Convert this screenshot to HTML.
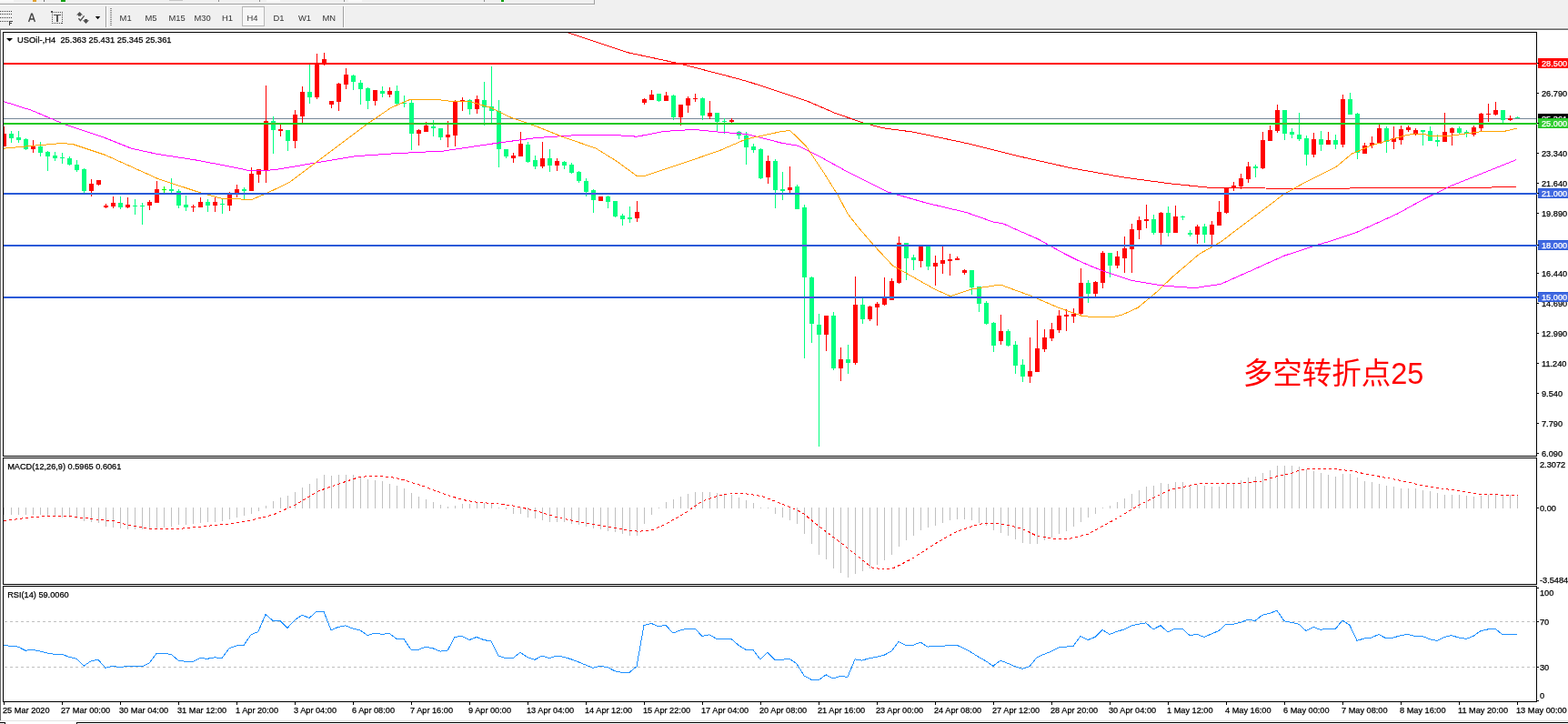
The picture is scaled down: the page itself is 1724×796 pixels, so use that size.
<!DOCTYPE html>
<html><head><meta charset="utf-8"><title>USOil H4</title>
<style>
html,body{margin:0;padding:0;background:#f0f0f0;}
body{width:1724px;height:796px;overflow:hidden;position:relative;}
svg{position:absolute;left:0;top:0;display:block;}
text{font-family:"Liberation Sans","Noto Sans CJK SC",sans-serif;}
</style></head>
<body>
<svg width="1724" height="796" viewBox="0 0 1724 796" shape-rendering="crispEdges">
<rect x="0" y="0" width="1724" height="33" fill="#f0f0f0"/>
<rect x="0" y="0" width="15" height="2" fill="#fafafa"/>
<rect x="36" y="0" width="4" height="2" fill="#e0a030"/>
<rect x="48" y="0" width="1" height="2" fill="#707070"/>
<rect x="67" y="0" width="5" height="2" fill="#10a010"/>
<rect x="186" y="0" width="15" height="1" fill="#c8c8c8"/>
<rect x="240" y="0" width="1" height="2" fill="#909090"/>
<rect x="285" y="0" width="1" height="2" fill="#909090"/>
<rect x="293" y="0" width="15" height="2" fill="#fafafa"/>
<rect x="378" y="0" width="1" height="2" fill="#909090"/>
<rect x="383" y="0" width="15" height="2" fill="#fafafa"/>
<rect x="532" y="0" width="1" height="2" fill="#909090"/>
<rect x="551" y="0" width="3" height="2" fill="#10a010"/>
<rect x="0" y="4" width="653" height="1" fill="#a0a0a0"/>
<rect x="653" y="0" width="1" height="5" fill="#a0a0a0"/>
<rect x="0" y="5" width="653" height="1" fill="#ffffff"/>
<rect x="0" y="12" width="1" height="1" fill="#404040"/>
<rect x="2" y="12" width="1" height="1" fill="#404040"/>
<rect x="4" y="12" width="1" height="1" fill="#404040"/>
<rect x="6" y="12" width="1" height="1" fill="#404040"/>
<rect x="8" y="12" width="1" height="1" fill="#404040"/>
<rect x="10" y="12" width="1" height="1" fill="#404040"/>
<rect x="12" y="12" width="1" height="1" fill="#404040"/>
<rect x="0" y="15" width="1" height="1" fill="#404040"/>
<rect x="2" y="15" width="1" height="1" fill="#404040"/>
<rect x="4" y="15" width="1" height="1" fill="#404040"/>
<rect x="6" y="15" width="1" height="1" fill="#404040"/>
<rect x="8" y="15" width="1" height="1" fill="#404040"/>
<rect x="10" y="15" width="1" height="1" fill="#404040"/>
<rect x="12" y="15" width="1" height="1" fill="#404040"/>
<rect x="0" y="19" width="1" height="1" fill="#404040"/>
<rect x="2" y="19" width="1" height="1" fill="#404040"/>
<rect x="4" y="19" width="1" height="1" fill="#404040"/>
<rect x="6" y="19" width="1" height="1" fill="#404040"/>
<rect x="8" y="19" width="1" height="1" fill="#404040"/>
<rect x="10" y="19" width="1" height="1" fill="#404040"/>
<rect x="12" y="19" width="1" height="1" fill="#404040"/>
<rect x="0" y="23" width="1" height="1" fill="#404040"/>
<rect x="2" y="23" width="1" height="1" fill="#404040"/>
<rect x="4" y="23" width="1" height="1" fill="#404040"/>
<rect x="6" y="23" width="1" height="1" fill="#404040"/>
<rect x="8" y="23" width="1" height="1" fill="#404040"/>
<rect x="10" y="23" width="1" height="5" fill="#404040"/>
<rect x="10" y="23" width="4" height="1" fill="#404040"/>
<rect x="10" y="25" width="3" height="1" fill="#404040"/>
<path d="M31.6 24 L34.6 15.3 L35.4 15.3 L38.4 24 M32.9 21 L37.1 21" stroke="#454545" stroke-width="1.4" fill="none" shape-rendering="auto"/>
<rect x="57" y="13" width="1" height="1" fill="#505050"/>
<rect x="68" y="13" width="1" height="1" fill="#505050"/>
<rect x="57" y="15" width="1" height="1" fill="#505050"/>
<rect x="68" y="15" width="1" height="1" fill="#505050"/>
<rect x="57" y="17" width="1" height="1" fill="#505050"/>
<rect x="68" y="17" width="1" height="1" fill="#505050"/>
<rect x="57" y="19" width="1" height="1" fill="#505050"/>
<rect x="68" y="19" width="1" height="1" fill="#505050"/>
<rect x="57" y="21" width="1" height="1" fill="#505050"/>
<rect x="68" y="21" width="1" height="1" fill="#505050"/>
<rect x="57" y="23" width="1" height="1" fill="#505050"/>
<rect x="68" y="23" width="1" height="1" fill="#505050"/>
<rect x="57" y="25" width="1" height="1" fill="#505050"/>
<rect x="68" y="25" width="1" height="1" fill="#505050"/>
<rect x="60" y="13" width="1" height="1" fill="#505050"/>
<rect x="62" y="13" width="1" height="1" fill="#505050"/>
<rect x="64" y="13" width="1" height="1" fill="#505050"/>
<rect x="66" y="13" width="1" height="1" fill="#505050"/>
<rect x="59" y="25" width="1" height="1" fill="#505050"/>
<rect x="61" y="25" width="1" height="1" fill="#505050"/>
<rect x="63" y="25" width="1" height="1" fill="#505050"/>
<rect x="65" y="25" width="1" height="1" fill="#505050"/>
<rect x="67" y="25" width="1" height="1" fill="#505050"/>
<rect x="56" y="12" width="2" height="2" fill="#505050"/>
<rect x="58" y="13" width="1" height="1" fill="#707070"/>
<rect x="59" y="16" width="8" height="1" fill="#505050"/>
<rect x="62" y="17" width="2" height="7" fill="#555555"/>
<path d="M84 16.6 L87.5 13 L91 16.6 L89 16.6 L89 17.8 L86 17.8 L86 16.6 Z" fill="#505050" shape-rendering="auto"/>
<path d="M93 21 L96 21 L96 22.3 L98 22.3 L94.5 26 L91 22.3 L93 22.3 Z" fill="#505050" shape-rendering="auto"/>
<path d="M86.4 20.3 L88.4 22.6 L92.6 17.4" stroke="#505050" stroke-width="1.4" fill="none" shape-rendering="auto"/>
<path d="M104.8 18 L110.2 18 L107.5 21.2 Z" fill="#000" shape-rendering="auto"/>
<rect x="116" y="7" width="1" height="23" fill="#a0a0a0"/>
<rect x="117" y="7" width="1" height="23" fill="#ffffff"/>
<rect x="121" y="9" width="2" height="1" fill="#909090"/>
<rect x="121" y="11" width="2" height="1" fill="#909090"/>
<rect x="121" y="13" width="2" height="1" fill="#909090"/>
<rect x="121" y="15" width="2" height="1" fill="#909090"/>
<rect x="121" y="17" width="2" height="1" fill="#909090"/>
<rect x="121" y="19" width="2" height="1" fill="#909090"/>
<rect x="121" y="21" width="2" height="1" fill="#909090"/>
<rect x="121" y="23" width="2" height="1" fill="#909090"/>
<rect x="121" y="25" width="2" height="1" fill="#909090"/>
<rect x="121" y="27" width="2" height="1" fill="#909090"/>
<rect x="377" y="7" width="1" height="23" fill="#a0a0a0"/>
<rect x="378" y="7" width="1" height="23" fill="#ffffff"/>
<rect x="266" y="7" width="25" height="22" fill="#f7f7f7"/>
<rect x="266.5" y="7.5" width="24" height="21" fill="none" stroke="#b8b8b8"/>
<text x="131.6" y="23" font-size="9.4" fill="#333">M1</text>
<text x="159.5" y="23" font-size="9.4" fill="#333">M5</text>
<text x="185.5" y="23" font-size="9.4" fill="#333">M15</text>
<text x="213.5" y="23" font-size="9.4" fill="#333">M30</text>
<text x="244" y="23" font-size="9.4" fill="#333">H1</text>
<text x="271.5" y="23" font-size="9.4" fill="#333">H4</text>
<text x="300.5" y="23" font-size="9.4" fill="#333">D1</text>
<text x="328" y="23" font-size="9.4" fill="#333">W1</text>
<text x="354.5" y="23" font-size="9.4" fill="#333">MN</text>
<rect x="0" y="30" width="1724" height="1" fill="#f8f8f8"/>
<rect x="0" y="31" width="1724" height="1" fill="#a0a0a0"/>
<rect x="0" y="32" width="1724" height="1" fill="#6a6a6a"/>
<rect x="1" y="33" width="1723" height="759" fill="#ffffff"/>
<rect x="0" y="32" width="1" height="760" fill="#696969"/>
<rect x="0" y="792" width="1724" height="1" fill="#e3e3e3"/>
<rect x="0" y="793" width="1724" height="3" fill="#ffffff"/>
<rect x="0" y="794" width="6" height="1" fill="#000"/>
<rect x="5" y="794" width="1" height="2" fill="#000"/>
<rect x="84" y="794" width="1640" height="1" fill="#000"/>
<rect x="84" y="794" width="1" height="2" fill="#000"/>
<rect x="0" y="795" width="5" height="1" fill="#f0f0f0"/>
<rect x="3" y="35" width="1687" height="1" fill="#000"/>
<rect x="3" y="501" width="1687" height="1" fill="#000"/>
<rect x="3" y="35" width="1" height="467" fill="#000"/>
<rect x="1689" y="35" width="1" height="467" fill="#000"/>
<rect x="3" y="503" width="1687" height="1" fill="#000"/>
<rect x="3" y="642" width="1687" height="1" fill="#000"/>
<rect x="3" y="503" width="1" height="140" fill="#000"/>
<rect x="1689" y="503" width="1" height="140" fill="#000"/>
<rect x="3" y="644" width="1687" height="1" fill="#000"/>
<rect x="3" y="771" width="1687" height="1" fill="#000"/>
<rect x="3" y="644" width="1" height="128" fill="#000"/>
<rect x="1689" y="644" width="1" height="128" fill="#000"/>
<defs><clipPath id="cm"><rect x="4" y="36" width="1685" height="465"/></clipPath><clipPath id="cd"><rect x="4" y="504" width="1685" height="138"/></clipPath><clipPath id="cr"><rect x="4" y="645" width="1685" height="126"/></clipPath></defs>
<g clip-path="url(#cm)">
<rect x="4" y="130" width="1686" height="1" fill="#778899"/>
<rect x="4" y="139" width="1" height="22" fill="#ff0000"/>
<rect x="2" y="147" width="5" height="14" fill="#ff0000"/>
<rect x="12" y="144" width="1" height="13" fill="#00ff7f"/>
<rect x="10" y="147" width="5" height="5" fill="#00ff7f"/>
<rect x="20" y="144" width="1" height="13" fill="#00ff7f"/>
<rect x="18" y="151" width="5" height="3" fill="#00ff7f"/>
<rect x="28" y="152" width="1" height="13" fill="#00ff7f"/>
<rect x="26" y="153" width="5" height="11" fill="#00ff7f"/>
<rect x="36" y="154" width="1" height="14" fill="#ff0000"/>
<rect x="34" y="160" width="5" height="4" fill="#ff0000"/>
<rect x="44" y="156" width="1" height="16" fill="#00ff7f"/>
<rect x="42" y="161" width="5" height="7" fill="#00ff7f"/>
<rect x="52" y="166" width="1" height="22" fill="#00ff7f"/>
<rect x="50" y="167" width="5" height="5" fill="#00ff7f"/>
<rect x="60" y="167" width="1" height="10" fill="#00ff7f"/>
<rect x="58" y="171" width="5" height="3" fill="#00ff7f"/>
<rect x="68" y="168" width="1" height="12" fill="#00ff7f"/>
<rect x="66" y="173" width="5" height="1" fill="#00ff7f"/>
<rect x="76" y="172" width="1" height="10" fill="#00ff7f"/>
<rect x="74" y="174" width="5" height="7" fill="#00ff7f"/>
<rect x="84" y="176" width="1" height="13" fill="#00ff7f"/>
<rect x="82" y="181" width="5" height="6" fill="#00ff7f"/>
<rect x="92" y="185" width="1" height="27" fill="#00ff7f"/>
<rect x="90" y="186" width="5" height="24" fill="#00ff7f"/>
<rect x="100" y="197" width="1" height="19" fill="#ff0000"/>
<rect x="98" y="202" width="5" height="8" fill="#ff0000"/>
<rect x="108" y="198" width="1" height="6" fill="#ff0000"/>
<rect x="106" y="198" width="5" height="5" fill="#ff0000"/>
<rect x="116" y="224" width="1" height="5" fill="#ff0000"/>
<rect x="114" y="226" width="5" height="2" fill="#ff0000"/>
<rect x="124" y="216" width="1" height="13" fill="#ff0000"/>
<rect x="122" y="223" width="5" height="4" fill="#ff0000"/>
<rect x="132" y="216" width="1" height="14" fill="#00ff7f"/>
<rect x="130" y="223" width="5" height="5" fill="#00ff7f"/>
<rect x="140" y="217" width="1" height="12" fill="#ff0000"/>
<rect x="138" y="225" width="5" height="3" fill="#ff0000"/>
<rect x="148" y="219" width="1" height="17" fill="#00ff7f"/>
<rect x="146" y="226" width="5" height="1" fill="#00ff7f"/>
<rect x="156" y="223" width="1" height="24" fill="#00ff7f"/>
<rect x="154" y="226" width="5" height="1" fill="#00ff7f"/>
<rect x="164" y="220" width="1" height="11" fill="#ff0000"/>
<rect x="162" y="222" width="5" height="4" fill="#ff0000"/>
<rect x="172" y="199" width="1" height="24" fill="#ff0000"/>
<rect x="170" y="208" width="5" height="15" fill="#ff0000"/>
<rect x="180" y="205" width="1" height="7" fill="#00ff00"/>
<rect x="178" y="208" width="5" height="1" fill="#00ff00"/>
<rect x="188" y="196" width="1" height="16" fill="#00ff7f"/>
<rect x="186" y="208" width="5" height="2" fill="#00ff7f"/>
<rect x="196" y="208" width="1" height="21" fill="#00ff7f"/>
<rect x="194" y="210" width="5" height="16" fill="#00ff7f"/>
<rect x="204" y="215" width="1" height="17" fill="#00ff7f"/>
<rect x="202" y="225" width="5" height="3" fill="#00ff7f"/>
<rect x="212" y="225" width="1" height="8" fill="#ff0000"/>
<rect x="210" y="227" width="5" height="1" fill="#ff0000"/>
<rect x="220" y="217" width="1" height="11" fill="#ff0000"/>
<rect x="218" y="222" width="5" height="6" fill="#ff0000"/>
<rect x="228" y="219" width="1" height="14" fill="#00ff7f"/>
<rect x="226" y="222" width="5" height="4" fill="#00ff7f"/>
<rect x="236" y="217" width="1" height="16" fill="#ff0000"/>
<rect x="234" y="222" width="5" height="4" fill="#ff0000"/>
<rect x="244" y="219" width="1" height="16" fill="#00ff7f"/>
<rect x="242" y="224" width="5" height="1" fill="#00ff7f"/>
<rect x="252" y="211" width="1" height="21" fill="#ff0000"/>
<rect x="250" y="214" width="5" height="12" fill="#ff0000"/>
<rect x="260" y="203" width="1" height="14" fill="#ff0000"/>
<rect x="258" y="208" width="5" height="4" fill="#ff0000"/>
<rect x="268" y="206" width="1" height="13" fill="#00ff7f"/>
<rect x="266" y="208" width="5" height="2" fill="#00ff7f"/>
<rect x="276" y="184" width="1" height="26" fill="#ff0000"/>
<rect x="274" y="191" width="5" height="19" fill="#ff0000"/>
<rect x="284" y="186" width="1" height="15" fill="#ff0000"/>
<rect x="282" y="186" width="5" height="6" fill="#ff0000"/>
<rect x="292" y="94" width="1" height="107" fill="#ff0000"/>
<rect x="290" y="133" width="5" height="54" fill="#ff0000"/>
<rect x="300" y="128" width="1" height="41" fill="#00ff7f"/>
<rect x="298" y="133" width="5" height="10" fill="#00ff7f"/>
<rect x="308" y="137" width="1" height="13" fill="#ff0000"/>
<rect x="306" y="142" width="5" height="2" fill="#ff0000"/>
<rect x="316" y="143" width="1" height="23" fill="#00ff7f"/>
<rect x="314" y="143" width="5" height="12" fill="#00ff7f"/>
<rect x="324" y="121" width="1" height="42" fill="#ff0000"/>
<rect x="322" y="126" width="5" height="29" fill="#ff0000"/>
<rect x="332" y="95" width="1" height="40" fill="#ff0000"/>
<rect x="330" y="101" width="5" height="27" fill="#ff0000"/>
<rect x="340" y="71" width="1" height="43" fill="#00ff7f"/>
<rect x="338" y="101" width="5" height="6" fill="#00ff7f"/>
<rect x="348" y="59" width="1" height="50" fill="#ff0000"/>
<rect x="346" y="69" width="5" height="38" fill="#ff0000"/>
<rect x="356" y="58" width="1" height="14" fill="#ff0000"/>
<rect x="354" y="65" width="5" height="5" fill="#ff0000"/>
<rect x="364" y="111" width="1" height="8" fill="#ff0000"/>
<rect x="362" y="111" width="5" height="4" fill="#ff0000"/>
<rect x="372" y="91" width="1" height="31" fill="#ff0000"/>
<rect x="370" y="92" width="5" height="20" fill="#ff0000"/>
<rect x="380" y="75" width="1" height="23" fill="#ff0000"/>
<rect x="378" y="82" width="5" height="11" fill="#ff0000"/>
<rect x="388" y="82" width="1" height="17" fill="#00ff7f"/>
<rect x="386" y="83" width="5" height="7" fill="#00ff7f"/>
<rect x="396" y="88" width="1" height="27" fill="#00ff7f"/>
<rect x="394" y="91" width="5" height="7" fill="#00ff7f"/>
<rect x="404" y="96" width="1" height="24" fill="#00ff7f"/>
<rect x="402" y="97" width="5" height="14" fill="#00ff7f"/>
<rect x="412" y="99" width="1" height="17" fill="#ff0000"/>
<rect x="410" y="99" width="5" height="12" fill="#ff0000"/>
<rect x="420" y="95" width="1" height="12" fill="#00ff7f"/>
<rect x="418" y="100" width="5" height="3" fill="#00ff7f"/>
<rect x="428" y="96" width="1" height="11" fill="#ff0000"/>
<rect x="426" y="100" width="5" height="4" fill="#ff0000"/>
<rect x="436" y="94" width="1" height="21" fill="#00ff7f"/>
<rect x="434" y="100" width="5" height="14" fill="#00ff7f"/>
<rect x="444" y="105" width="1" height="13" fill="#00ff7f"/>
<rect x="442" y="113" width="5" height="1" fill="#00ff7f"/>
<rect x="452" y="110" width="1" height="55" fill="#00ff7f"/>
<rect x="450" y="113" width="5" height="34" fill="#00ff7f"/>
<rect x="460" y="142" width="1" height="18" fill="#ff0000"/>
<rect x="458" y="143" width="5" height="4" fill="#ff0000"/>
<rect x="468" y="134" width="1" height="11" fill="#ff0000"/>
<rect x="466" y="138" width="5" height="7" fill="#ff0000"/>
<rect x="476" y="132" width="1" height="18" fill="#00ff7f"/>
<rect x="474" y="139" width="5" height="2" fill="#00ff7f"/>
<rect x="484" y="141" width="1" height="13" fill="#00ff7f"/>
<rect x="482" y="141" width="5" height="10" fill="#00ff7f"/>
<rect x="492" y="133" width="1" height="29" fill="#ff0000"/>
<rect x="490" y="148" width="5" height="3" fill="#ff0000"/>
<rect x="500" y="110" width="1" height="51" fill="#ff0000"/>
<rect x="498" y="112" width="5" height="37" fill="#ff0000"/>
<rect x="508" y="107" width="1" height="15" fill="#ff0000"/>
<rect x="506" y="110" width="5" height="2" fill="#ff0000"/>
<rect x="516" y="109" width="1" height="17" fill="#00ff7f"/>
<rect x="514" y="110" width="5" height="10" fill="#00ff7f"/>
<rect x="524" y="105" width="1" height="20" fill="#ff0000"/>
<rect x="522" y="109" width="5" height="11" fill="#ff0000"/>
<rect x="532" y="90" width="1" height="48" fill="#00ff7f"/>
<rect x="530" y="110" width="5" height="8" fill="#00ff7f"/>
<rect x="540" y="73" width="1" height="62" fill="#00ff7f"/>
<rect x="538" y="117" width="5" height="5" fill="#00ff7f"/>
<rect x="548" y="110" width="1" height="74" fill="#00ff7f"/>
<rect x="546" y="122" width="5" height="42" fill="#00ff7f"/>
<rect x="556" y="164" width="1" height="10" fill="#00ff7f"/>
<rect x="554" y="164" width="5" height="8" fill="#00ff7f"/>
<rect x="564" y="168" width="1" height="11" fill="#ff0000"/>
<rect x="562" y="171" width="5" height="3" fill="#ff0000"/>
<rect x="572" y="145" width="1" height="27" fill="#ff0000"/>
<rect x="570" y="158" width="5" height="14" fill="#ff0000"/>
<rect x="580" y="156" width="1" height="23" fill="#00ff7f"/>
<rect x="578" y="159" width="5" height="19" fill="#00ff7f"/>
<rect x="588" y="171" width="1" height="15" fill="#00ff7f"/>
<rect x="586" y="176" width="5" height="7" fill="#00ff7f"/>
<rect x="596" y="156" width="1" height="29" fill="#ff0000"/>
<rect x="594" y="174" width="5" height="9" fill="#ff0000"/>
<rect x="604" y="164" width="1" height="25" fill="#00ff7f"/>
<rect x="602" y="174" width="5" height="8" fill="#00ff7f"/>
<rect x="612" y="174" width="1" height="14" fill="#ff0000"/>
<rect x="610" y="177" width="5" height="5" fill="#ff0000"/>
<rect x="620" y="177" width="1" height="9" fill="#00ff7f"/>
<rect x="618" y="178" width="5" height="4" fill="#00ff7f"/>
<rect x="628" y="179" width="1" height="12" fill="#00ff7f"/>
<rect x="626" y="181" width="5" height="9" fill="#00ff7f"/>
<rect x="636" y="188" width="1" height="13" fill="#00ff7f"/>
<rect x="634" y="189" width="5" height="10" fill="#00ff7f"/>
<rect x="644" y="196" width="1" height="20" fill="#00ff7f"/>
<rect x="642" y="199" width="5" height="12" fill="#00ff7f"/>
<rect x="652" y="208" width="1" height="26" fill="#00ff7f"/>
<rect x="650" y="209" width="5" height="11" fill="#00ff7f"/>
<rect x="660" y="216" width="1" height="5" fill="#ff0000"/>
<rect x="658" y="216" width="5" height="5" fill="#ff0000"/>
<rect x="668" y="215" width="1" height="14" fill="#00ff7f"/>
<rect x="666" y="216" width="5" height="6" fill="#00ff7f"/>
<rect x="676" y="221" width="1" height="18" fill="#00ff7f"/>
<rect x="674" y="221" width="5" height="17" fill="#00ff7f"/>
<rect x="684" y="235" width="1" height="13" fill="#00ff7f"/>
<rect x="682" y="237" width="5" height="4" fill="#00ff7f"/>
<rect x="692" y="227" width="1" height="18" fill="#00ff7f"/>
<rect x="690" y="239" width="5" height="2" fill="#00ff7f"/>
<rect x="700" y="221" width="1" height="23" fill="#ff0000"/>
<rect x="698" y="233" width="5" height="7" fill="#ff0000"/>
<rect x="708" y="108" width="1" height="7" fill="#ff0000"/>
<rect x="706" y="109" width="5" height="4" fill="#ff0000"/>
<rect x="716" y="99" width="1" height="11" fill="#ff0000"/>
<rect x="714" y="104" width="5" height="6" fill="#ff0000"/>
<rect x="724" y="103" width="1" height="9" fill="#00ff7f"/>
<rect x="722" y="103" width="5" height="8" fill="#00ff7f"/>
<rect x="732" y="101" width="1" height="10" fill="#ff0000"/>
<rect x="730" y="105" width="5" height="6" fill="#ff0000"/>
<rect x="740" y="104" width="1" height="28" fill="#00ff7f"/>
<rect x="738" y="105" width="5" height="24" fill="#00ff7f"/>
<rect x="748" y="115" width="1" height="23" fill="#ff0000"/>
<rect x="746" y="115" width="5" height="14" fill="#ff0000"/>
<rect x="756" y="106" width="1" height="18" fill="#ff0000"/>
<rect x="754" y="108" width="5" height="8" fill="#ff0000"/>
<rect x="764" y="103" width="1" height="9" fill="#ff0000"/>
<rect x="762" y="108" width="5" height="1" fill="#ff0000"/>
<rect x="772" y="107" width="1" height="25" fill="#00ff7f"/>
<rect x="770" y="108" width="5" height="19" fill="#00ff7f"/>
<rect x="780" y="111" width="1" height="20" fill="#ff0000"/>
<rect x="778" y="124" width="5" height="4" fill="#ff0000"/>
<rect x="788" y="124" width="1" height="20" fill="#00ff7f"/>
<rect x="786" y="124" width="5" height="10" fill="#00ff7f"/>
<rect x="796" y="130" width="1" height="17" fill="#00ff7f"/>
<rect x="794" y="133" width="5" height="1" fill="#00ff7f"/>
<rect x="804" y="130" width="1" height="5" fill="#ff0000"/>
<rect x="802" y="132" width="5" height="2" fill="#ff0000"/>
<rect x="812" y="144" width="1" height="9" fill="#00ff7f"/>
<rect x="810" y="145" width="5" height="4" fill="#00ff7f"/>
<rect x="820" y="145" width="1" height="36" fill="#00ff7f"/>
<rect x="818" y="149" width="5" height="13" fill="#00ff7f"/>
<rect x="828" y="158" width="1" height="10" fill="#00ff7f"/>
<rect x="826" y="161" width="5" height="4" fill="#00ff7f"/>
<rect x="836" y="163" width="1" height="34" fill="#00ff7f"/>
<rect x="834" y="164" width="5" height="32" fill="#00ff7f"/>
<rect x="844" y="171" width="1" height="31" fill="#ff0000"/>
<rect x="842" y="177" width="5" height="18" fill="#ff0000"/>
<rect x="852" y="175" width="1" height="54" fill="#00ff7f"/>
<rect x="850" y="177" width="5" height="32" fill="#00ff7f"/>
<rect x="860" y="189" width="1" height="31" fill="#00ff7f"/>
<rect x="858" y="208" width="5" height="2" fill="#00ff7f"/>
<rect x="868" y="183" width="1" height="29" fill="#ff0000"/>
<rect x="866" y="206" width="5" height="3" fill="#ff0000"/>
<rect x="876" y="203" width="1" height="27" fill="#00ff7f"/>
<rect x="874" y="205" width="5" height="25" fill="#00ff7f"/>
<rect x="884" y="225" width="1" height="169" fill="#00ff7f"/>
<rect x="882" y="228" width="5" height="77" fill="#00ff7f"/>
<rect x="892" y="304" width="1" height="73" fill="#00ff7f"/>
<rect x="890" y="305" width="5" height="51" fill="#00ff7f"/>
<rect x="900" y="345" width="1" height="146" fill="#00ff7f"/>
<rect x="898" y="357" width="5" height="11" fill="#00ff7f"/>
<rect x="908" y="347" width="1" height="39" fill="#ff0000"/>
<rect x="906" y="347" width="5" height="21" fill="#ff0000"/>
<rect x="916" y="343" width="1" height="64" fill="#00ff7f"/>
<rect x="914" y="347" width="5" height="58" fill="#00ff7f"/>
<rect x="924" y="382" width="1" height="37" fill="#ff0000"/>
<rect x="922" y="395" width="5" height="10" fill="#ff0000"/>
<rect x="932" y="379" width="1" height="32" fill="#00ff7f"/>
<rect x="930" y="395" width="5" height="4" fill="#00ff7f"/>
<rect x="940" y="304" width="1" height="97" fill="#ff0000"/>
<rect x="938" y="335" width="5" height="64" fill="#ff0000"/>
<rect x="948" y="328" width="1" height="28" fill="#00ff7f"/>
<rect x="946" y="335" width="5" height="16" fill="#00ff7f"/>
<rect x="956" y="336" width="1" height="17" fill="#ff0000"/>
<rect x="954" y="337" width="5" height="14" fill="#ff0000"/>
<rect x="964" y="332" width="1" height="26" fill="#ff0000"/>
<rect x="962" y="334" width="5" height="4" fill="#ff0000"/>
<rect x="972" y="305" width="1" height="31" fill="#ff0000"/>
<rect x="970" y="328" width="5" height="7" fill="#ff0000"/>
<rect x="980" y="306" width="1" height="24" fill="#ff0000"/>
<rect x="978" y="309" width="5" height="21" fill="#ff0000"/>
<rect x="988" y="260" width="1" height="52" fill="#ff0000"/>
<rect x="986" y="267" width="5" height="44" fill="#ff0000"/>
<rect x="996" y="267" width="1" height="41" fill="#00ff7f"/>
<rect x="994" y="267" width="5" height="17" fill="#00ff7f"/>
<rect x="1004" y="280" width="1" height="17" fill="#00ff7f"/>
<rect x="1002" y="283" width="5" height="3" fill="#00ff7f"/>
<rect x="1012" y="271" width="1" height="23" fill="#ff0000"/>
<rect x="1010" y="271" width="5" height="16" fill="#ff0000"/>
<rect x="1020" y="271" width="1" height="26" fill="#00ff7f"/>
<rect x="1018" y="271" width="5" height="22" fill="#00ff7f"/>
<rect x="1028" y="281" width="1" height="33" fill="#ff0000"/>
<rect x="1026" y="289" width="5" height="4" fill="#ff0000"/>
<rect x="1036" y="271" width="1" height="30" fill="#ff0000"/>
<rect x="1034" y="286" width="5" height="4" fill="#ff0000"/>
<rect x="1044" y="279" width="1" height="24" fill="#ff0000"/>
<rect x="1042" y="285" width="5" height="2" fill="#ff0000"/>
<rect x="1052" y="282" width="1" height="4" fill="#ff0000"/>
<rect x="1050" y="284" width="5" height="2" fill="#ff0000"/>
<rect x="1060" y="296" width="1" height="6" fill="#ff0000"/>
<rect x="1058" y="297" width="5" height="3" fill="#ff0000"/>
<rect x="1068" y="297" width="1" height="27" fill="#00ff7f"/>
<rect x="1066" y="297" width="5" height="19" fill="#00ff7f"/>
<rect x="1076" y="315" width="1" height="28" fill="#00ff7f"/>
<rect x="1074" y="315" width="5" height="19" fill="#00ff7f"/>
<rect x="1084" y="331" width="1" height="26" fill="#00ff7f"/>
<rect x="1082" y="333" width="5" height="23" fill="#00ff7f"/>
<rect x="1092" y="354" width="1" height="33" fill="#00ff7f"/>
<rect x="1090" y="355" width="5" height="25" fill="#00ff7f"/>
<rect x="1100" y="346" width="1" height="33" fill="#ff0000"/>
<rect x="1098" y="364" width="5" height="11" fill="#ff0000"/>
<rect x="1108" y="362" width="1" height="19" fill="#00ff7f"/>
<rect x="1106" y="364" width="5" height="16" fill="#00ff7f"/>
<rect x="1116" y="375" width="1" height="36" fill="#00ff7f"/>
<rect x="1114" y="379" width="5" height="23" fill="#00ff7f"/>
<rect x="1124" y="395" width="1" height="25" fill="#00ff7f"/>
<rect x="1122" y="401" width="5" height="13" fill="#00ff7f"/>
<rect x="1132" y="371" width="1" height="50" fill="#ff0000"/>
<rect x="1130" y="408" width="5" height="6" fill="#ff0000"/>
<rect x="1140" y="352" width="1" height="57" fill="#ff0000"/>
<rect x="1138" y="383" width="5" height="26" fill="#ff0000"/>
<rect x="1148" y="362" width="1" height="25" fill="#ff0000"/>
<rect x="1146" y="371" width="5" height="13" fill="#ff0000"/>
<rect x="1156" y="355" width="1" height="20" fill="#ff0000"/>
<rect x="1154" y="362" width="5" height="10" fill="#ff0000"/>
<rect x="1164" y="341" width="1" height="25" fill="#ff0000"/>
<rect x="1162" y="347" width="5" height="16" fill="#ff0000"/>
<rect x="1172" y="340" width="1" height="24" fill="#ff0000"/>
<rect x="1170" y="346" width="5" height="2" fill="#ff0000"/>
<rect x="1180" y="339" width="1" height="16" fill="#ff0000"/>
<rect x="1178" y="345" width="5" height="3" fill="#ff0000"/>
<rect x="1188" y="295" width="1" height="52" fill="#ff0000"/>
<rect x="1186" y="311" width="5" height="34" fill="#ff0000"/>
<rect x="1196" y="308" width="1" height="25" fill="#00ff7f"/>
<rect x="1194" y="311" width="5" height="12" fill="#00ff7f"/>
<rect x="1204" y="309" width="1" height="17" fill="#ff0000"/>
<rect x="1202" y="310" width="5" height="13" fill="#ff0000"/>
<rect x="1212" y="276" width="1" height="41" fill="#ff0000"/>
<rect x="1210" y="278" width="5" height="33" fill="#ff0000"/>
<rect x="1220" y="278" width="1" height="27" fill="#00ff7f"/>
<rect x="1218" y="278" width="5" height="14" fill="#00ff7f"/>
<rect x="1228" y="276" width="1" height="19" fill="#ff0000"/>
<rect x="1226" y="282" width="5" height="10" fill="#ff0000"/>
<rect x="1236" y="260" width="1" height="40" fill="#ff0000"/>
<rect x="1234" y="273" width="5" height="11" fill="#ff0000"/>
<rect x="1244" y="246" width="1" height="54" fill="#ff0000"/>
<rect x="1242" y="252" width="5" height="22" fill="#ff0000"/>
<rect x="1252" y="238" width="1" height="25" fill="#ff0000"/>
<rect x="1250" y="242" width="5" height="11" fill="#ff0000"/>
<rect x="1260" y="225" width="1" height="26" fill="#ff0000"/>
<rect x="1258" y="241" width="5" height="2" fill="#ff0000"/>
<rect x="1268" y="236" width="1" height="22" fill="#00ff7f"/>
<rect x="1266" y="241" width="5" height="15" fill="#00ff7f"/>
<rect x="1276" y="233" width="1" height="36" fill="#ff0000"/>
<rect x="1274" y="234" width="5" height="22" fill="#ff0000"/>
<rect x="1284" y="227" width="1" height="33" fill="#00ff7f"/>
<rect x="1282" y="234" width="5" height="22" fill="#00ff7f"/>
<rect x="1292" y="226" width="1" height="30" fill="#ff0000"/>
<rect x="1290" y="238" width="5" height="18" fill="#ff0000"/>
<rect x="1300" y="237" width="1" height="5" fill="#00ff7f"/>
<rect x="1298" y="238" width="5" height="1" fill="#00ff7f"/>
<rect x="1308" y="253" width="1" height="7" fill="#00ff7f"/>
<rect x="1306" y="256" width="5" height="2" fill="#00ff7f"/>
<rect x="1316" y="247" width="1" height="21" fill="#ff0000"/>
<rect x="1314" y="249" width="5" height="9" fill="#ff0000"/>
<rect x="1324" y="246" width="1" height="21" fill="#00ff7f"/>
<rect x="1322" y="249" width="5" height="9" fill="#00ff7f"/>
<rect x="1332" y="243" width="1" height="27" fill="#ff0000"/>
<rect x="1330" y="247" width="5" height="11" fill="#ff0000"/>
<rect x="1340" y="221" width="1" height="27" fill="#ff0000"/>
<rect x="1338" y="233" width="5" height="15" fill="#ff0000"/>
<rect x="1348" y="206" width="1" height="29" fill="#ff0000"/>
<rect x="1346" y="206" width="5" height="28" fill="#ff0000"/>
<rect x="1356" y="200" width="1" height="10" fill="#ff0000"/>
<rect x="1354" y="204" width="5" height="3" fill="#ff0000"/>
<rect x="1364" y="191" width="1" height="17" fill="#ff0000"/>
<rect x="1362" y="196" width="5" height="9" fill="#ff0000"/>
<rect x="1372" y="178" width="1" height="23" fill="#ff0000"/>
<rect x="1370" y="183" width="5" height="14" fill="#ff0000"/>
<rect x="1380" y="181" width="1" height="14" fill="#00ff7f"/>
<rect x="1378" y="183" width="5" height="2" fill="#00ff7f"/>
<rect x="1388" y="145" width="1" height="41" fill="#ff0000"/>
<rect x="1386" y="154" width="5" height="31" fill="#ff0000"/>
<rect x="1396" y="138" width="1" height="17" fill="#ff0000"/>
<rect x="1394" y="143" width="5" height="12" fill="#ff0000"/>
<rect x="1404" y="115" width="1" height="31" fill="#ff0000"/>
<rect x="1402" y="121" width="5" height="23" fill="#ff0000"/>
<rect x="1412" y="121" width="1" height="33" fill="#00ff7f"/>
<rect x="1410" y="121" width="5" height="26" fill="#00ff7f"/>
<rect x="1420" y="141" width="1" height="11" fill="#00ff7f"/>
<rect x="1418" y="145" width="5" height="3" fill="#00ff7f"/>
<rect x="1428" y="124" width="1" height="31" fill="#00ff7f"/>
<rect x="1426" y="148" width="5" height="5" fill="#00ff7f"/>
<rect x="1436" y="149" width="1" height="33" fill="#00ff7f"/>
<rect x="1434" y="152" width="5" height="18" fill="#00ff7f"/>
<rect x="1444" y="146" width="1" height="27" fill="#ff0000"/>
<rect x="1442" y="153" width="5" height="17" fill="#ff0000"/>
<rect x="1452" y="144" width="1" height="22" fill="#00ff7f"/>
<rect x="1450" y="153" width="5" height="6" fill="#00ff7f"/>
<rect x="1460" y="145" width="1" height="14" fill="#ff0000"/>
<rect x="1458" y="154" width="5" height="5" fill="#ff0000"/>
<rect x="1468" y="148" width="1" height="16" fill="#00ff7f"/>
<rect x="1466" y="154" width="5" height="5" fill="#00ff7f"/>
<rect x="1476" y="104" width="1" height="58" fill="#ff0000"/>
<rect x="1474" y="109" width="5" height="50" fill="#ff0000"/>
<rect x="1484" y="102" width="1" height="24" fill="#00ff7f"/>
<rect x="1482" y="109" width="5" height="17" fill="#00ff7f"/>
<rect x="1492" y="124" width="1" height="51" fill="#00ff7f"/>
<rect x="1490" y="125" width="5" height="43" fill="#00ff7f"/>
<rect x="1500" y="157" width="1" height="12" fill="#ff0000"/>
<rect x="1498" y="160" width="5" height="9" fill="#ff0000"/>
<rect x="1508" y="150" width="1" height="13" fill="#ff0000"/>
<rect x="1506" y="157" width="5" height="3" fill="#ff0000"/>
<rect x="1516" y="137" width="1" height="21" fill="#ff0000"/>
<rect x="1514" y="141" width="5" height="17" fill="#ff0000"/>
<rect x="1524" y="139" width="1" height="29" fill="#00ff7f"/>
<rect x="1522" y="141" width="5" height="15" fill="#00ff7f"/>
<rect x="1532" y="139" width="1" height="25" fill="#ff0000"/>
<rect x="1530" y="152" width="5" height="4" fill="#ff0000"/>
<rect x="1540" y="138" width="1" height="21" fill="#ff0000"/>
<rect x="1538" y="142" width="5" height="12" fill="#ff0000"/>
<rect x="1548" y="138" width="1" height="7" fill="#ff0000"/>
<rect x="1546" y="140" width="5" height="3" fill="#ff0000"/>
<rect x="1556" y="141" width="1" height="8" fill="#ff0000"/>
<rect x="1554" y="143" width="5" height="4" fill="#ff0000"/>
<rect x="1564" y="143" width="1" height="17" fill="#00ff7f"/>
<rect x="1562" y="143" width="5" height="2" fill="#00ff7f"/>
<rect x="1572" y="139" width="1" height="16" fill="#00ff7f"/>
<rect x="1570" y="144" width="5" height="11" fill="#00ff7f"/>
<rect x="1580" y="148" width="1" height="13" fill="#00ff7f"/>
<rect x="1578" y="154" width="5" height="2" fill="#00ff7f"/>
<rect x="1588" y="124" width="1" height="32" fill="#ff0000"/>
<rect x="1586" y="145" width="5" height="11" fill="#ff0000"/>
<rect x="1596" y="140" width="1" height="20" fill="#ff0000"/>
<rect x="1594" y="141" width="5" height="5" fill="#ff0000"/>
<rect x="1604" y="139" width="1" height="9" fill="#00ff7f"/>
<rect x="1602" y="141" width="5" height="5" fill="#00ff7f"/>
<rect x="1612" y="143" width="1" height="8" fill="#00ff7f"/>
<rect x="1610" y="145" width="5" height="2" fill="#00ff7f"/>
<rect x="1620" y="138" width="1" height="12" fill="#ff0000"/>
<rect x="1618" y="140" width="5" height="8" fill="#ff0000"/>
<rect x="1628" y="124" width="1" height="20" fill="#ff0000"/>
<rect x="1626" y="125" width="5" height="16" fill="#ff0000"/>
<rect x="1636" y="114" width="1" height="20" fill="#ff0000"/>
<rect x="1634" y="125" width="5" height="1" fill="#ff0000"/>
<rect x="1644" y="112" width="1" height="15" fill="#ff0000"/>
<rect x="1642" y="121" width="5" height="5" fill="#ff0000"/>
<rect x="1652" y="121" width="1" height="14" fill="#00ff7f"/>
<rect x="1650" y="121" width="5" height="11" fill="#00ff7f"/>
<rect x="1660" y="127" width="1" height="6" fill="#ff0000"/>
<rect x="1658" y="130" width="5" height="2" fill="#ff0000"/>
<rect x="1668" y="128" width="1" height="2" fill="#00ff7f"/>
<rect x="1666" y="129" width="5" height="1" fill="#00ff7f"/>
<polyline points="620.0,34.0 626.5,36.6 690.1,57.7 747.9,70.1 805.7,85.1 823.4,90.0 860.0,101.9 888.9,111.7 917.8,124.2 946.7,134.3 969.8,140.6 1004.5,145.2 1062.3,157.4 1120.1,171.8 1177.9,184.8 1235.7,195.0 1272.5,200.0 1290.0,202.2 1329.8,206.3 1434.5,207.5 1463.4,207.5 1492.3,206.8 1639.5,206.5 1640.5,205.5 1667.2,205.1" fill="none" stroke="#ff0000" stroke-width="1"/>
<polyline points="4.3,111.7 34.7,121.3 72.3,137.2 115.6,151.6 144.5,163.2 173.4,169.5 216.8,176.2 254.3,183.4 274.6,187.7 300.6,186.9 346.8,179.1 390.2,171.8 430.0,169.0 487.8,166.0 545.6,157.4 589.0,151.6 632.3,148.7 678.6,148.7 700.2,150.2 730.6,144.4 762.4,142.4 791.3,145.2 820.2,147.3 860.0,157.4 877.3,160.3 903.4,173.3 932.3,189.2 975.6,210.9 1019.0,223.3 1062.3,233.5 1080.6,240.0 1091.2,243.8 1103.2,246.0 1118.3,252.8 1140.9,262.6 1153.0,269.4 1171.0,279.2 1186.0,286.7 1200.0,292.8 1212.0,297.6 1243.8,308.3 1281.5,314.5 1296.0,315.3 1313.1,316.7 1342.0,312.4 1376.7,297.1 1411.4,281.4 1446.1,269.9 1463.4,265.0 1492.3,255.1 1535.7,235.4 1564.6,219.5 1593.5,205.1 1622.4,193.5 1651.3,182.0 1667.2,175.6" fill="none" stroke="#ff00ff" stroke-width="1"/>
<polyline points="4.3,163.2 28.9,160.9 69.4,157.4 80.9,158.8 115.6,170.4 173.4,196.4 219.7,211.7 245.7,218.7 277.5,219.2 294.8,211.7 317.9,200.7 346.8,179.1 375.7,157.4 404.6,135.7 430.0,118.4 450.2,109.7 482.0,109.7 499.4,111.7 516.7,111.7 539.8,118.4 560.0,128.5 589.0,138.6 617.9,150.2 655.4,163.2 678.6,177.6 700.2,193.5 708.9,193.5 747.9,180.5 791.3,165.5 820.2,153.0 860.0,144.4 868.7,143.5 886.0,160.3 906.2,190.6 920.7,213.7 932.3,235.4 943.8,250.0 961.2,270.2 981.4,291.9 1004.5,304.9 1027.6,317.9 1045.0,325.7 1068.1,317.9 1099.9,313.0 1134.6,325.7 1163.5,338.2 1190.0,347.5 1201.0,348.5 1224.0,348.5 1234.5,345.8 1251.0,338.3 1270.4,322.3 1290.0,303.7 1318.9,279.1 1342.0,266.1 1376.7,239.8 1411.4,213.7 1434.5,200.7 1469.2,183.4 1486.5,169.0 1506.8,160.3 1536.0,151.5 1546.0,148.7 1556.0,147.0 1566.0,147.2 1571.0,149.2 1596.0,149.2 1606.0,147.7 1616.0,146.4 1624.4,145.2 1632.5,144.2 1654.6,144.2 1661.6,142.7 1667.7,141.2" fill="none" stroke="#ffa500" stroke-width="1"/>
</g>
<rect x="4" y="69" width="1686" height="2" fill="#ff0000"/>
<rect x="4" y="135" width="1686" height="2" fill="#1ec81e"/>
<rect x="4" y="212" width="1686" height="2" fill="#2a5ad8"/>
<rect x="4" y="269" width="1686" height="2" fill="#2a5ad8"/>
<rect x="4" y="326" width="1686" height="2" fill="#2a5ad8"/>
<rect x="100" y="212" width="1" height="1" fill="#2a82fa"/>
<rect x="100" y="213" width="1" height="1" fill="#2a82fa"/>
<rect x="170" y="212" width="5" height="1" fill="#2a82fa"/>
<rect x="170" y="213" width="5" height="1" fill="#2a82fa"/>
<rect x="194" y="212" width="5" height="1" fill="#4a50e6"/>
<rect x="194" y="213" width="5" height="1" fill="#4a50e6"/>
<rect x="252" y="212" width="1" height="1" fill="#2a82fa"/>
<rect x="252" y="213" width="1" height="1" fill="#2a82fa"/>
<rect x="260" y="212" width="1" height="1" fill="#2a82fa"/>
<rect x="260" y="213" width="1" height="1" fill="#2a82fa"/>
<rect x="268" y="212" width="1" height="1" fill="#4a50e6"/>
<rect x="268" y="213" width="1" height="1" fill="#4a50e6"/>
<rect x="290" y="135" width="5" height="1" fill="#1ec81e"/>
<rect x="290" y="136" width="5" height="1" fill="#1ec81e"/>
<rect x="298" y="135" width="5" height="1" fill="#50b428"/>
<rect x="298" y="136" width="5" height="1" fill="#50b428"/>
<rect x="322" y="135" width="5" height="1" fill="#1ec81e"/>
<rect x="322" y="136" width="5" height="1" fill="#1ec81e"/>
<rect x="450" y="135" width="5" height="1" fill="#50b428"/>
<rect x="450" y="136" width="5" height="1" fill="#50b428"/>
<rect x="468" y="135" width="1" height="1" fill="#1ec81e"/>
<rect x="468" y="136" width="1" height="1" fill="#1ec81e"/>
<rect x="476" y="135" width="1" height="1" fill="#50b428"/>
<rect x="476" y="136" width="1" height="1" fill="#50b428"/>
<rect x="492" y="135" width="1" height="1" fill="#1ec81e"/>
<rect x="492" y="136" width="1" height="1" fill="#1ec81e"/>
<rect x="498" y="135" width="5" height="1" fill="#1ec81e"/>
<rect x="498" y="136" width="5" height="1" fill="#1ec81e"/>
<rect x="532" y="135" width="1" height="1" fill="#50b428"/>
<rect x="532" y="136" width="1" height="1" fill="#50b428"/>
<rect x="546" y="135" width="5" height="1" fill="#50b428"/>
<rect x="546" y="136" width="5" height="1" fill="#50b428"/>
<rect x="644" y="212" width="1" height="1" fill="#4a50e6"/>
<rect x="644" y="213" width="1" height="1" fill="#4a50e6"/>
<rect x="650" y="212" width="5" height="1" fill="#4a50e6"/>
<rect x="650" y="213" width="5" height="1" fill="#4a50e6"/>
<rect x="748" y="135" width="1" height="1" fill="#1ec81e"/>
<rect x="748" y="136" width="1" height="1" fill="#1ec81e"/>
<rect x="788" y="135" width="1" height="1" fill="#50b428"/>
<rect x="788" y="136" width="1" height="1" fill="#50b428"/>
<rect x="796" y="135" width="1" height="1" fill="#50b428"/>
<rect x="796" y="136" width="1" height="1" fill="#50b428"/>
<rect x="852" y="212" width="1" height="1" fill="#4a50e6"/>
<rect x="852" y="213" width="1" height="1" fill="#4a50e6"/>
<rect x="860" y="212" width="1" height="1" fill="#4a50e6"/>
<rect x="860" y="213" width="1" height="1" fill="#4a50e6"/>
<rect x="874" y="212" width="5" height="1" fill="#4a50e6"/>
<rect x="874" y="213" width="5" height="1" fill="#4a50e6"/>
<rect x="882" y="269" width="5" height="1" fill="#4a50e6"/>
<rect x="882" y="270" width="5" height="1" fill="#4a50e6"/>
<rect x="884" y="326" width="1" height="1" fill="#4a50e6"/>
<rect x="884" y="327" width="1" height="1" fill="#4a50e6"/>
<rect x="890" y="326" width="5" height="1" fill="#4a50e6"/>
<rect x="890" y="327" width="5" height="1" fill="#4a50e6"/>
<rect x="940" y="326" width="1" height="1" fill="#2a82fa"/>
<rect x="940" y="327" width="1" height="1" fill="#2a82fa"/>
<rect x="972" y="326" width="1" height="1" fill="#2a82fa"/>
<rect x="972" y="327" width="1" height="1" fill="#2a82fa"/>
<rect x="978" y="326" width="5" height="1" fill="#2a82fa"/>
<rect x="978" y="327" width="5" height="1" fill="#2a82fa"/>
<rect x="986" y="269" width="5" height="1" fill="#2a82fa"/>
<rect x="986" y="270" width="5" height="1" fill="#2a82fa"/>
<rect x="994" y="269" width="5" height="1" fill="#4a50e6"/>
<rect x="994" y="270" width="5" height="1" fill="#4a50e6"/>
<rect x="1074" y="326" width="5" height="1" fill="#4a50e6"/>
<rect x="1074" y="327" width="5" height="1" fill="#4a50e6"/>
<rect x="1186" y="326" width="5" height="1" fill="#2a82fa"/>
<rect x="1186" y="327" width="5" height="1" fill="#2a82fa"/>
<rect x="1196" y="326" width="1" height="1" fill="#4a50e6"/>
<rect x="1196" y="327" width="1" height="1" fill="#4a50e6"/>
<rect x="1236" y="269" width="1" height="1" fill="#2a82fa"/>
<rect x="1236" y="270" width="1" height="1" fill="#2a82fa"/>
<rect x="1242" y="269" width="5" height="1" fill="#2a82fa"/>
<rect x="1242" y="270" width="5" height="1" fill="#2a82fa"/>
<rect x="1332" y="269" width="1" height="1" fill="#2a82fa"/>
<rect x="1346" y="212" width="5" height="1" fill="#2a82fa"/>
<rect x="1346" y="213" width="5" height="1" fill="#2a82fa"/>
<rect x="1402" y="135" width="5" height="1" fill="#1ec81e"/>
<rect x="1402" y="136" width="5" height="1" fill="#1ec81e"/>
<rect x="1410" y="135" width="5" height="1" fill="#50b428"/>
<rect x="1410" y="136" width="5" height="1" fill="#50b428"/>
<rect x="1428" y="135" width="1" height="1" fill="#50b428"/>
<rect x="1428" y="136" width="1" height="1" fill="#50b428"/>
<rect x="1474" y="135" width="5" height="1" fill="#1ec81e"/>
<rect x="1474" y="136" width="5" height="1" fill="#1ec81e"/>
<rect x="1490" y="135" width="5" height="1" fill="#50b428"/>
<rect x="1490" y="136" width="5" height="1" fill="#50b428"/>
<rect x="1588" y="135" width="1" height="1" fill="#1ec81e"/>
<rect x="1588" y="136" width="1" height="1" fill="#1ec81e"/>
<rect x="1626" y="135" width="5" height="1" fill="#1ec81e"/>
<rect x="1626" y="136" width="5" height="1" fill="#1ec81e"/>
<path d="M7 42 L14 42 L10.5 45.6 Z" fill="#000" shape-rendering="auto"/>
<text x="19.1" y="46.6" font-size="9.3" fill="#000" stroke="#000" stroke-width="0.25" xml:space="preserve" textLength="169.4" lengthAdjust="spacing">USOil-,H4  25.363 25.431 25.345 25.361</text>
<text x="1366.7" y="421.5" font-family="'Liberation Sans', 'Noto Sans CJK SC', sans-serif" font-size="32.5" fill="#ff0000" shape-rendering="auto">多空转折点25</text>
<rect x="1690" y="102" width="2" height="1" fill="#000"/>
<text x="1695" y="106" font-size="9.2" fill="#000" stroke="#000" stroke-width="0.25">26.790</text>
<rect x="1690" y="168" width="2" height="1" fill="#000"/>
<text x="1695" y="172" font-size="9.2" fill="#000" stroke="#000" stroke-width="0.25">23.340</text>
<rect x="1690" y="201" width="2" height="1" fill="#000"/>
<text x="1695" y="205" font-size="9.2" fill="#000" stroke="#000" stroke-width="0.25">21.640</text>
<rect x="1690" y="234" width="2" height="1" fill="#000"/>
<text x="1695" y="238" font-size="9.2" fill="#000" stroke="#000" stroke-width="0.25">19.890</text>
<rect x="1690" y="300" width="2" height="1" fill="#000"/>
<text x="1695" y="304" font-size="9.2" fill="#000" stroke="#000" stroke-width="0.25">16.440</text>
<rect x="1690" y="333" width="2" height="1" fill="#000"/>
<text x="1695" y="337" font-size="9.2" fill="#000" stroke="#000" stroke-width="0.25">14.690</text>
<rect x="1690" y="366" width="2" height="1" fill="#000"/>
<text x="1695" y="370" font-size="9.2" fill="#000" stroke="#000" stroke-width="0.25">12.990</text>
<rect x="1690" y="399" width="2" height="1" fill="#000"/>
<text x="1695" y="403" font-size="9.2" fill="#000" stroke="#000" stroke-width="0.25">11.240</text>
<rect x="1690" y="432" width="2" height="1" fill="#000"/>
<text x="1695" y="436" font-size="9.2" fill="#000" stroke="#000" stroke-width="0.25">9.540</text>
<rect x="1690" y="465" width="2" height="1" fill="#000"/>
<text x="1695" y="469" font-size="9.2" fill="#000" stroke="#000" stroke-width="0.25">7.790</text>
<rect x="1690" y="498" width="2" height="1" fill="#000"/>
<text x="1695" y="502" font-size="9.2" fill="#000" stroke="#000" stroke-width="0.25">6.090</text>
<rect x="1689" y="69" width="1" height="2" fill="#ff0000"/>
<rect x="1689" y="135" width="1" height="2" fill="#1ec81e"/>
<rect x="1691" y="125" width="33" height="11" fill="#000"/>
<text x="1695" y="134" font-size="9.2" fill="#fff" stroke="#fff" stroke-width="0.25">25.361</text>
<rect x="1691" y="64" width="33" height="11" fill="#ff0000"/>
<text x="1695" y="73" font-size="9.2" fill="#fff" stroke="#fff" stroke-width="0.25">28.500</text>
<rect x="1691" y="130" width="33" height="11" fill="#1ec81e"/>
<rect x="1692" y="131" width="32" height="9" fill="#32cd32"/>
<text x="1695" y="139" font-size="9.2" fill="#fff" stroke="#fff" stroke-width="0.25">25.000</text>
<rect x="1691" y="207" width="33" height="11" fill="#2a5ad8"/>
<rect x="1692" y="208" width="32" height="9" fill="#4169e1"/>
<text x="1695" y="216" font-size="9.2" fill="#fff" stroke="#fff" stroke-width="0.25">21.000</text>
<rect x="1691" y="264" width="33" height="11" fill="#2a5ad8"/>
<rect x="1692" y="265" width="32" height="9" fill="#4169e1"/>
<text x="1695" y="273" font-size="9.2" fill="#fff" stroke="#fff" stroke-width="0.25">18.000</text>
<rect x="1691" y="321" width="33" height="11" fill="#2a5ad8"/>
<rect x="1692" y="322" width="32" height="9" fill="#4169e1"/>
<text x="1695" y="330" font-size="9.2" fill="#fff" stroke="#fff" stroke-width="0.25">15.000</text>
<rect x="1690" y="69" width="2" height="1" fill="#000"/>
<rect x="1690" y="135" width="2" height="1" fill="#000"/>
<rect x="1690" y="212" width="2" height="1" fill="#000"/>
<rect x="1690" y="269" width="2" height="1" fill="#000"/>
<rect x="1690" y="326" width="2" height="1" fill="#000"/>
<g clip-path="url(#cd)">
<rect x="4" y="558" width="1" height="8" fill="#c0c0c0"/>
<rect x="12" y="558" width="1" height="8" fill="#c0c0c0"/>
<rect x="20" y="558" width="1" height="8" fill="#c0c0c0"/>
<rect x="28" y="558" width="1" height="8" fill="#c0c0c0"/>
<rect x="36" y="558" width="1" height="8" fill="#c0c0c0"/>
<rect x="44" y="558" width="1" height="8" fill="#c0c0c0"/>
<rect x="52" y="558" width="1" height="9" fill="#c0c0c0"/>
<rect x="60" y="558" width="1" height="9" fill="#c0c0c0"/>
<rect x="68" y="558" width="1" height="11" fill="#c0c0c0"/>
<rect x="76" y="558" width="1" height="11" fill="#c0c0c0"/>
<rect x="84" y="558" width="1" height="12" fill="#c0c0c0"/>
<rect x="92" y="558" width="1" height="15" fill="#c0c0c0"/>
<rect x="100" y="558" width="1" height="16" fill="#c0c0c0"/>
<rect x="108" y="558" width="1" height="17" fill="#c0c0c0"/>
<rect x="116" y="558" width="1" height="21" fill="#c0c0c0"/>
<rect x="124" y="558" width="1" height="22" fill="#c0c0c0"/>
<rect x="132" y="558" width="1" height="23" fill="#c0c0c0"/>
<rect x="140" y="558" width="1" height="24" fill="#c0c0c0"/>
<rect x="148" y="558" width="1" height="24" fill="#c0c0c0"/>
<rect x="156" y="558" width="1" height="24" fill="#c0c0c0"/>
<rect x="164" y="558" width="1" height="24" fill="#c0c0c0"/>
<rect x="172" y="558" width="1" height="23" fill="#c0c0c0"/>
<rect x="180" y="558" width="1" height="22" fill="#c0c0c0"/>
<rect x="188" y="558" width="1" height="21" fill="#c0c0c0"/>
<rect x="196" y="558" width="1" height="19" fill="#c0c0c0"/>
<rect x="204" y="558" width="1" height="19" fill="#c0c0c0"/>
<rect x="212" y="558" width="1" height="18" fill="#c0c0c0"/>
<rect x="220" y="558" width="1" height="17" fill="#c0c0c0"/>
<rect x="228" y="558" width="1" height="16" fill="#c0c0c0"/>
<rect x="236" y="558" width="1" height="16" fill="#c0c0c0"/>
<rect x="244" y="558" width="1" height="15" fill="#c0c0c0"/>
<rect x="252" y="558" width="1" height="13" fill="#c0c0c0"/>
<rect x="260" y="558" width="1" height="11" fill="#c0c0c0"/>
<rect x="268" y="558" width="1" height="9" fill="#c0c0c0"/>
<rect x="276" y="558" width="1" height="7" fill="#c0c0c0"/>
<rect x="284" y="558" width="1" height="4" fill="#c0c0c0"/>
<rect x="292" y="556" width="1" height="3" fill="#c0c0c0"/>
<rect x="300" y="551" width="1" height="8" fill="#c0c0c0"/>
<rect x="308" y="547" width="1" height="12" fill="#c0c0c0"/>
<rect x="316" y="545" width="1" height="14" fill="#c0c0c0"/>
<rect x="324" y="541" width="1" height="18" fill="#c0c0c0"/>
<rect x="332" y="536" width="1" height="23" fill="#c0c0c0"/>
<rect x="340" y="532" width="1" height="27" fill="#c0c0c0"/>
<rect x="348" y="526" width="1" height="33" fill="#c0c0c0"/>
<rect x="356" y="522" width="1" height="37" fill="#c0c0c0"/>
<rect x="364" y="523" width="1" height="36" fill="#c0c0c0"/>
<rect x="372" y="522" width="1" height="37" fill="#c0c0c0"/>
<rect x="380" y="522" width="1" height="37" fill="#c0c0c0"/>
<rect x="388" y="522" width="1" height="37" fill="#c0c0c0"/>
<rect x="396" y="524" width="1" height="35" fill="#c0c0c0"/>
<rect x="404" y="527" width="1" height="32" fill="#c0c0c0"/>
<rect x="412" y="528" width="1" height="31" fill="#c0c0c0"/>
<rect x="420" y="529" width="1" height="30" fill="#c0c0c0"/>
<rect x="428" y="532" width="1" height="27" fill="#c0c0c0"/>
<rect x="436" y="534" width="1" height="25" fill="#c0c0c0"/>
<rect x="444" y="537" width="1" height="22" fill="#c0c0c0"/>
<rect x="452" y="542" width="1" height="17" fill="#c0c0c0"/>
<rect x="460" y="546" width="1" height="13" fill="#c0c0c0"/>
<rect x="468" y="549" width="1" height="10" fill="#c0c0c0"/>
<rect x="476" y="552" width="1" height="7" fill="#c0c0c0"/>
<rect x="484" y="555" width="1" height="4" fill="#c0c0c0"/>
<rect x="492" y="557" width="1" height="2" fill="#c0c0c0"/>
<rect x="500" y="556" width="1" height="3" fill="#c0c0c0"/>
<rect x="508" y="554" width="1" height="5" fill="#c0c0c0"/>
<rect x="516" y="554" width="1" height="5" fill="#c0c0c0"/>
<rect x="524" y="553" width="1" height="6" fill="#c0c0c0"/>
<rect x="532" y="553" width="1" height="6" fill="#c0c0c0"/>
<rect x="540" y="554" width="1" height="5" fill="#c0c0c0"/>
<rect x="548" y="558" width="1" height="1" fill="#c0c0c0"/>
<rect x="556" y="558" width="1" height="2" fill="#c0c0c0"/>
<rect x="564" y="558" width="1" height="7" fill="#c0c0c0"/>
<rect x="572" y="558" width="1" height="7" fill="#c0c0c0"/>
<rect x="580" y="558" width="1" height="11" fill="#c0c0c0"/>
<rect x="588" y="558" width="1" height="12" fill="#c0c0c0"/>
<rect x="596" y="558" width="1" height="14" fill="#c0c0c0"/>
<rect x="604" y="558" width="1" height="16" fill="#c0c0c0"/>
<rect x="612" y="558" width="1" height="16" fill="#c0c0c0"/>
<rect x="620" y="558" width="1" height="16" fill="#c0c0c0"/>
<rect x="628" y="558" width="1" height="18" fill="#c0c0c0"/>
<rect x="636" y="558" width="1" height="19" fill="#c0c0c0"/>
<rect x="644" y="558" width="1" height="21" fill="#c0c0c0"/>
<rect x="652" y="558" width="1" height="23" fill="#c0c0c0"/>
<rect x="660" y="558" width="1" height="24" fill="#c0c0c0"/>
<rect x="668" y="558" width="1" height="26" fill="#c0c0c0"/>
<rect x="676" y="558" width="1" height="27" fill="#c0c0c0"/>
<rect x="684" y="558" width="1" height="29" fill="#c0c0c0"/>
<rect x="692" y="558" width="1" height="31" fill="#c0c0c0"/>
<rect x="700" y="558" width="1" height="31" fill="#c0c0c0"/>
<rect x="708" y="558" width="1" height="18" fill="#c0c0c0"/>
<rect x="716" y="558" width="1" height="8" fill="#c0c0c0"/>
<rect x="724" y="558" width="1" height="1" fill="#c0c0c0"/>
<rect x="732" y="552" width="1" height="7" fill="#c0c0c0"/>
<rect x="740" y="549" width="1" height="10" fill="#c0c0c0"/>
<rect x="748" y="546" width="1" height="13" fill="#c0c0c0"/>
<rect x="756" y="543" width="1" height="16" fill="#c0c0c0"/>
<rect x="764" y="541" width="1" height="18" fill="#c0c0c0"/>
<rect x="772" y="541" width="1" height="18" fill="#c0c0c0"/>
<rect x="780" y="541" width="1" height="18" fill="#c0c0c0"/>
<rect x="788" y="542" width="1" height="17" fill="#c0c0c0"/>
<rect x="796" y="543" width="1" height="16" fill="#c0c0c0"/>
<rect x="804" y="544" width="1" height="15" fill="#c0c0c0"/>
<rect x="812" y="547" width="1" height="12" fill="#c0c0c0"/>
<rect x="820" y="550" width="1" height="9" fill="#c0c0c0"/>
<rect x="828" y="553" width="1" height="6" fill="#c0c0c0"/>
<rect x="836" y="558" width="1" height="1" fill="#c0c0c0"/>
<rect x="844" y="558" width="1" height="1" fill="#c0c0c0"/>
<rect x="852" y="558" width="1" height="7" fill="#c0c0c0"/>
<rect x="860" y="558" width="1" height="11" fill="#c0c0c0"/>
<rect x="868" y="558" width="1" height="14" fill="#c0c0c0"/>
<rect x="876" y="558" width="1" height="18" fill="#c0c0c0"/>
<rect x="884" y="558" width="1" height="29" fill="#c0c0c0"/>
<rect x="892" y="558" width="1" height="40" fill="#c0c0c0"/>
<rect x="900" y="558" width="1" height="52" fill="#c0c0c0"/>
<rect x="908" y="558" width="1" height="57" fill="#c0c0c0"/>
<rect x="916" y="558" width="1" height="67" fill="#c0c0c0"/>
<rect x="924" y="558" width="1" height="72" fill="#c0c0c0"/>
<rect x="932" y="558" width="1" height="77" fill="#c0c0c0"/>
<rect x="940" y="558" width="1" height="73" fill="#c0c0c0"/>
<rect x="948" y="558" width="1" height="70" fill="#c0c0c0"/>
<rect x="956" y="558" width="1" height="67" fill="#c0c0c0"/>
<rect x="964" y="558" width="1" height="63" fill="#c0c0c0"/>
<rect x="972" y="558" width="1" height="58" fill="#c0c0c0"/>
<rect x="980" y="558" width="1" height="52" fill="#c0c0c0"/>
<rect x="988" y="558" width="1" height="43" fill="#c0c0c0"/>
<rect x="996" y="558" width="1" height="36" fill="#c0c0c0"/>
<rect x="1004" y="558" width="1" height="31" fill="#c0c0c0"/>
<rect x="1012" y="558" width="1" height="25" fill="#c0c0c0"/>
<rect x="1020" y="558" width="1" height="22" fill="#c0c0c0"/>
<rect x="1028" y="558" width="1" height="20" fill="#c0c0c0"/>
<rect x="1036" y="558" width="1" height="17" fill="#c0c0c0"/>
<rect x="1044" y="558" width="1" height="14" fill="#c0c0c0"/>
<rect x="1052" y="558" width="1" height="13" fill="#c0c0c0"/>
<rect x="1060" y="558" width="1" height="13" fill="#c0c0c0"/>
<rect x="1068" y="558" width="1" height="14" fill="#c0c0c0"/>
<rect x="1076" y="558" width="1" height="17" fill="#c0c0c0"/>
<rect x="1084" y="558" width="1" height="20" fill="#c0c0c0"/>
<rect x="1092" y="558" width="1" height="25" fill="#c0c0c0"/>
<rect x="1100" y="558" width="1" height="28" fill="#c0c0c0"/>
<rect x="1108" y="558" width="1" height="31" fill="#c0c0c0"/>
<rect x="1116" y="558" width="1" height="35" fill="#c0c0c0"/>
<rect x="1124" y="558" width="1" height="39" fill="#c0c0c0"/>
<rect x="1132" y="558" width="1" height="40" fill="#c0c0c0"/>
<rect x="1140" y="558" width="1" height="40" fill="#c0c0c0"/>
<rect x="1148" y="558" width="1" height="36" fill="#c0c0c0"/>
<rect x="1156" y="558" width="1" height="33" fill="#c0c0c0"/>
<rect x="1164" y="558" width="1" height="29" fill="#c0c0c0"/>
<rect x="1172" y="558" width="1" height="26" fill="#c0c0c0"/>
<rect x="1180" y="558" width="1" height="21" fill="#c0c0c0"/>
<rect x="1188" y="558" width="1" height="16" fill="#c0c0c0"/>
<rect x="1196" y="558" width="1" height="11" fill="#c0c0c0"/>
<rect x="1204" y="558" width="1" height="7" fill="#c0c0c0"/>
<rect x="1212" y="558" width="1" height="1" fill="#c0c0c0"/>
<rect x="1220" y="556" width="1" height="3" fill="#c0c0c0"/>
<rect x="1228" y="552" width="1" height="7" fill="#c0c0c0"/>
<rect x="1236" y="548" width="1" height="11" fill="#c0c0c0"/>
<rect x="1244" y="543" width="1" height="16" fill="#c0c0c0"/>
<rect x="1252" y="539" width="1" height="20" fill="#c0c0c0"/>
<rect x="1260" y="535" width="1" height="24" fill="#c0c0c0"/>
<rect x="1268" y="534" width="1" height="25" fill="#c0c0c0"/>
<rect x="1276" y="531" width="1" height="28" fill="#c0c0c0"/>
<rect x="1284" y="532" width="1" height="27" fill="#c0c0c0"/>
<rect x="1292" y="530" width="1" height="29" fill="#c0c0c0"/>
<rect x="1300" y="530" width="1" height="29" fill="#c0c0c0"/>
<rect x="1308" y="533" width="1" height="26" fill="#c0c0c0"/>
<rect x="1316" y="533" width="1" height="26" fill="#c0c0c0"/>
<rect x="1324" y="534" width="1" height="25" fill="#c0c0c0"/>
<rect x="1332" y="535" width="1" height="24" fill="#c0c0c0"/>
<rect x="1340" y="535" width="1" height="24" fill="#c0c0c0"/>
<rect x="1348" y="532" width="1" height="27" fill="#c0c0c0"/>
<rect x="1356" y="532" width="1" height="27" fill="#c0c0c0"/>
<rect x="1364" y="528" width="1" height="31" fill="#c0c0c0"/>
<rect x="1372" y="525" width="1" height="34" fill="#c0c0c0"/>
<rect x="1380" y="524" width="1" height="35" fill="#c0c0c0"/>
<rect x="1388" y="520" width="1" height="39" fill="#c0c0c0"/>
<rect x="1396" y="517" width="1" height="42" fill="#c0c0c0"/>
<rect x="1404" y="512" width="1" height="47" fill="#c0c0c0"/>
<rect x="1412" y="512" width="1" height="47" fill="#c0c0c0"/>
<rect x="1420" y="512" width="1" height="47" fill="#c0c0c0"/>
<rect x="1428" y="513" width="1" height="46" fill="#c0c0c0"/>
<rect x="1436" y="516" width="1" height="43" fill="#c0c0c0"/>
<rect x="1444" y="518" width="1" height="41" fill="#c0c0c0"/>
<rect x="1452" y="520" width="1" height="39" fill="#c0c0c0"/>
<rect x="1460" y="522" width="1" height="37" fill="#c0c0c0"/>
<rect x="1468" y="524" width="1" height="35" fill="#c0c0c0"/>
<rect x="1476" y="521" width="1" height="38" fill="#c0c0c0"/>
<rect x="1484" y="521" width="1" height="38" fill="#c0c0c0"/>
<rect x="1492" y="525" width="1" height="34" fill="#c0c0c0"/>
<rect x="1500" y="529" width="1" height="30" fill="#c0c0c0"/>
<rect x="1508" y="530" width="1" height="29" fill="#c0c0c0"/>
<rect x="1516" y="532" width="1" height="27" fill="#c0c0c0"/>
<rect x="1524" y="534" width="1" height="25" fill="#c0c0c0"/>
<rect x="1532" y="535" width="1" height="24" fill="#c0c0c0"/>
<rect x="1540" y="537" width="1" height="22" fill="#c0c0c0"/>
<rect x="1548" y="537" width="1" height="22" fill="#c0c0c0"/>
<rect x="1556" y="537" width="1" height="22" fill="#c0c0c0"/>
<rect x="1564" y="539" width="1" height="20" fill="#c0c0c0"/>
<rect x="1572" y="540" width="1" height="19" fill="#c0c0c0"/>
<rect x="1580" y="542" width="1" height="17" fill="#c0c0c0"/>
<rect x="1588" y="544" width="1" height="15" fill="#c0c0c0"/>
<rect x="1596" y="544" width="1" height="15" fill="#c0c0c0"/>
<rect x="1604" y="544" width="1" height="15" fill="#c0c0c0"/>
<rect x="1612" y="545" width="1" height="14" fill="#c0c0c0"/>
<rect x="1620" y="546" width="1" height="13" fill="#c0c0c0"/>
<rect x="1628" y="545" width="1" height="14" fill="#c0c0c0"/>
<rect x="1636" y="544" width="1" height="15" fill="#c0c0c0"/>
<rect x="1644" y="544" width="1" height="15" fill="#c0c0c0"/>
<rect x="1652" y="544" width="1" height="15" fill="#c0c0c0"/>
<rect x="1660" y="544" width="1" height="15" fill="#c0c0c0"/>
<rect x="1668" y="545" width="1" height="14" fill="#c0c0c0"/>
<polyline points="4.0,572.8 25.0,569.9 50.0,567.4 75.0,567.4 85.0,568.6 100.0,570.4 125.0,572.8 140.0,577.3 155.0,579.3 165.0,581.3 200.0,581.1 225.0,578.6 250.0,576.1 275.0,572.3 300.0,566.1 325.0,554.9 350.0,539.9 375.0,531.2 395.0,524.5 412.0,523.0 430.0,524.5 443.0,527.4 465.0,534.4 490.0,543.7 508.0,549.4 528.0,552.9 540.0,553.1 565.0,556.1 590.0,561.9 615.0,569.4 640.0,574.3 665.0,578.6 690.0,582.8 702.0,584.3 717.0,582.8 732.0,576.1 752.0,564.9 772.0,551.1 790.0,544.9 807.0,542.4 817.0,542.4 837.0,545.4 852.0,551.1 867.0,556.9 882.0,563.6 902.0,579.8 927.0,598.5 947.0,614.8 959.0,624.2 972.0,626.0 982.0,624.7 1002.0,614.8 1027.0,598.5 1052.0,584.3 1077.0,576.1 1092.0,575.3 1109.0,577.3 1126.0,582.3 1141.0,589.8 1164.0,592.8 1176.0,592.3 1196.0,587.3 1226.0,571.1 1251.0,556.1 1278.0,542.4 1288.0,537.9 1301.0,535.4 1321.0,531.2 1363.0,531.2 1386.0,529.4 1401.0,524.5 1421.0,520.0 1431.0,516.2 1446.0,515.5 1466.0,515.5 1488.0,518.0 1505.0,522.0 1525.0,525.5 1545.0,529.4 1563.0,533.7 1588.0,537.4 1613.0,541.2 1630.0,543.7 1669.0,544.4" fill="none" stroke="#ff0000" stroke-width="1" stroke-dasharray="3 3"/>
</g>
<text x="8.2" y="516" font-size="9.2" fill="#000" stroke="#000" stroke-width="0.25">MACD(12,26,9) 0.5965 0.6061</text>
<text x="1693" y="514" font-size="9.2" fill="#000" stroke="#000" stroke-width="0.25">2.3072</text>
<text x="1693" y="562" font-size="9.2" fill="#000" stroke="#000" stroke-width="0.25">0.00</text>
<text x="1693" y="641" font-size="9.2" fill="#000" stroke="#000" stroke-width="0.25">-3.5484</text>
<rect x="1690" y="558" width="2" height="1" fill="#000"/>
<line x1="5" y1="683.5" x2="1689" y2="683.5" stroke="#c0c0c0" stroke-width="1" stroke-dasharray="3 3"/>
<line x1="5" y1="733.5" x2="1689" y2="733.5" stroke="#c0c0c0" stroke-width="1" stroke-dasharray="3 3"/>
<g clip-path="url(#cr)">
<polyline points="4.0,709.4 12.0,710.4 20.0,711.1 28.0,715.3 36.0,714.3 44.0,716.1 52.0,718.1 60.0,719.3 68.0,719.3 76.0,722.3 84.0,724.3 92.0,732.3 100.0,726.8 108.0,725.3 116.0,734.3 124.0,732.3 132.0,733.6 140.0,732.3 148.0,732.3 156.0,732.8 164.0,729.3 172.0,718.6 180.0,718.6 188.0,719.3 196.0,726.1 204.0,727.3 212.0,727.3 220.0,723.6 228.0,724.3 236.0,722.8 244.0,723.6 252.0,712.8 260.0,709.9 268.0,709.4 276.0,697.9 284.0,694.4 292.0,675.4 300.0,682.4 308.0,682.4 316.0,690.4 324.0,681.9 332.0,676.2 340.0,679.4 348.0,672.4 356.0,672.4 364.0,692.9 372.0,689.4 380.0,687.9 388.0,691.1 396.0,692.9 404.0,698.6 412.0,696.1 420.0,697.4 428.0,696.5 436.0,702.4 444.0,702.4 452.0,714.3 460.0,714.3 468.0,711.1 476.0,712.8 484.0,716.1 492.0,715.3 500.0,700.4 508.0,699.4 516.0,703.6 524.0,700.4 532.0,703.6 540.0,704.9 548.0,721.1 556.0,723.6 564.0,723.6 572.0,717.3 580.0,722.8 588.0,725.3 596.0,721.1 604.0,723.6 612.0,721.1 620.0,722.3 628.0,724.8 636.0,727.8 644.0,731.1 652.0,734.3 660.0,732.3 668.0,733.6 676.0,737.8 684.0,739.3 692.0,739.3 700.0,732.8 708.0,687.4 716.0,685.4 724.0,688.7 732.0,687.4 740.0,696.1 748.0,692.9 756.0,691.1 764.0,691.1 772.0,699.4 780.0,697.9 788.0,702.4 796.0,702.4 804.0,702.4 812.0,709.4 820.0,714.3 828.0,714.3 836.0,725.3 844.0,717.3 852.0,725.3 860.0,725.3 868.0,724.3 876.0,729.8 884.0,742.8 892.0,747.3 900.0,747.8 908.0,741.8 916.0,746.0 924.0,743.5 932.0,744.3 940.0,724.8 948.0,726.1 956.0,723.6 964.0,722.3 972.0,720.3 980.0,716.1 988.0,705.4 996.0,709.4 1004.0,709.4 1012.0,706.1 1020.0,711.1 1028.0,710.4 1036.0,710.4 1044.0,709.4 1052.0,709.4 1060.0,712.8 1068.0,717.3 1076.0,722.3 1084.0,726.8 1092.0,732.3 1100.0,726.1 1108.0,729.3 1116.0,732.8 1124.0,735.3 1132.0,732.8 1140.0,722.8 1148.0,719.3 1156.0,716.1 1164.0,711.9 1172.0,711.1 1180.0,710.4 1188.0,699.4 1196.0,703.6 1204.0,700.4 1212.0,692.4 1220.0,697.4 1228.0,694.4 1236.0,691.9 1244.0,687.9 1252.0,686.2 1260.0,684.9 1268.0,691.9 1276.0,687.7 1284.0,694.9 1292.0,691.1 1300.0,691.1 1308.0,698.6 1316.0,697.4 1324.0,700.4 1332.0,696.9 1340.0,693.6 1348.0,686.2 1356.0,686.2 1364.0,684.4 1372.0,681.2 1380.0,682.4 1388.0,676.2 1396.0,674.4 1404.0,671.2 1412.0,682.9 1420.0,684.4 1428.0,686.2 1436.0,693.6 1444.0,689.4 1452.0,692.4 1460.0,691.1 1468.0,691.9 1476.0,681.9 1484.0,687.4 1492.0,704.4 1500.0,701.9 1508.0,701.1 1516.0,697.4 1524.0,701.9 1532.0,701.1 1540.0,698.6 1548.0,697.4 1556.0,699.4 1564.0,699.4 1572.0,702.9 1580.0,704.4 1588.0,700.4 1596.0,698.6 1604.0,701.1 1612.0,702.4 1620.0,699.4 1628.0,693.6 1636.0,691.9 1644.0,691.1 1652.0,697.9 1660.0,697.4 1668.0,697.4" fill="none" stroke="#1e90ff" stroke-width="1"/>
</g>
<text x="8.2" y="657" font-size="9.2" fill="#000" stroke="#000" stroke-width="0.25">RSI(14) 59.0060</text>
<text x="1693" y="655" font-size="9.2" fill="#000" stroke="#000" stroke-width="0.25">100</text>
<text x="1693" y="687" font-size="9.2" fill="#000" stroke="#000" stroke-width="0.25">70</text>
<text x="1693" y="737" font-size="9.2" fill="#000" stroke="#000" stroke-width="0.25">30</text>
<text x="1693" y="768" font-size="9.2" fill="#000" stroke="#000" stroke-width="0.25">0</text>
<rect x="1690" y="646" width="2" height="1" fill="#000"/>
<rect x="1690" y="683" width="2" height="1" fill="#000"/>
<rect x="1690" y="733" width="2" height="1" fill="#000"/>
<rect x="1690" y="770" width="2" height="1" fill="#000"/>
<rect x="4" y="772" width="1" height="3" fill="#000"/>
<text x="3" y="784" font-size="9.2" fill="#000" stroke="#000" stroke-width="0.25">25 Mar 2020</text>
<rect x="68" y="772" width="1" height="3" fill="#000"/>
<text x="67" y="784" font-size="9.2" fill="#000" stroke="#000" stroke-width="0.25">27 Mar 00:00</text>
<rect x="132" y="772" width="1" height="3" fill="#000"/>
<text x="131" y="784" font-size="9.2" fill="#000" stroke="#000" stroke-width="0.25">30 Mar 04:00</text>
<rect x="196" y="772" width="1" height="3" fill="#000"/>
<text x="195" y="784" font-size="9.2" fill="#000" stroke="#000" stroke-width="0.25">31 Mar 12:00</text>
<rect x="260" y="772" width="1" height="3" fill="#000"/>
<text x="259" y="784" font-size="9.2" fill="#000" stroke="#000" stroke-width="0.25">1 Apr 20:00</text>
<rect x="324" y="772" width="1" height="3" fill="#000"/>
<text x="323" y="784" font-size="9.2" fill="#000" stroke="#000" stroke-width="0.25">3 Apr 04:00</text>
<rect x="388" y="772" width="1" height="3" fill="#000"/>
<text x="387" y="784" font-size="9.2" fill="#000" stroke="#000" stroke-width="0.25">6 Apr 08:00</text>
<rect x="452" y="772" width="1" height="3" fill="#000"/>
<text x="451" y="784" font-size="9.2" fill="#000" stroke="#000" stroke-width="0.25">7 Apr 16:00</text>
<rect x="516" y="772" width="1" height="3" fill="#000"/>
<text x="515" y="784" font-size="9.2" fill="#000" stroke="#000" stroke-width="0.25">9 Apr 00:00</text>
<rect x="580" y="772" width="1" height="3" fill="#000"/>
<text x="579" y="784" font-size="9.2" fill="#000" stroke="#000" stroke-width="0.25">13 Apr 04:00</text>
<rect x="644" y="772" width="1" height="3" fill="#000"/>
<text x="643" y="784" font-size="9.2" fill="#000" stroke="#000" stroke-width="0.25">14 Apr 12:00</text>
<rect x="708" y="772" width="1" height="3" fill="#000"/>
<text x="707" y="784" font-size="9.2" fill="#000" stroke="#000" stroke-width="0.25">15 Apr 22:00</text>
<rect x="772" y="772" width="1" height="3" fill="#000"/>
<text x="771" y="784" font-size="9.2" fill="#000" stroke="#000" stroke-width="0.25">17 Apr 04:00</text>
<rect x="836" y="772" width="1" height="3" fill="#000"/>
<text x="835" y="784" font-size="9.2" fill="#000" stroke="#000" stroke-width="0.25">20 Apr 08:00</text>
<rect x="900" y="772" width="1" height="3" fill="#000"/>
<text x="899" y="784" font-size="9.2" fill="#000" stroke="#000" stroke-width="0.25">21 Apr 16:00</text>
<rect x="964" y="772" width="1" height="3" fill="#000"/>
<text x="963" y="784" font-size="9.2" fill="#000" stroke="#000" stroke-width="0.25">23 Apr 00:00</text>
<rect x="1028" y="772" width="1" height="3" fill="#000"/>
<text x="1027" y="784" font-size="9.2" fill="#000" stroke="#000" stroke-width="0.25">24 Apr 08:00</text>
<rect x="1092" y="772" width="1" height="3" fill="#000"/>
<text x="1091" y="784" font-size="9.2" fill="#000" stroke="#000" stroke-width="0.25">27 Apr 12:00</text>
<rect x="1156" y="772" width="1" height="3" fill="#000"/>
<text x="1155" y="784" font-size="9.2" fill="#000" stroke="#000" stroke-width="0.25">28 Apr 20:00</text>
<rect x="1220" y="772" width="1" height="3" fill="#000"/>
<text x="1219" y="784" font-size="9.2" fill="#000" stroke="#000" stroke-width="0.25">30 Apr 04:00</text>
<rect x="1284" y="772" width="1" height="3" fill="#000"/>
<text x="1283" y="784" font-size="9.2" fill="#000" stroke="#000" stroke-width="0.25">1 May 12:00</text>
<rect x="1348" y="772" width="1" height="3" fill="#000"/>
<text x="1347" y="784" font-size="9.2" fill="#000" stroke="#000" stroke-width="0.25">4 May 16:00</text>
<rect x="1412" y="772" width="1" height="3" fill="#000"/>
<text x="1411" y="784" font-size="9.2" fill="#000" stroke="#000" stroke-width="0.25">6 May 00:00</text>
<rect x="1476" y="772" width="1" height="3" fill="#000"/>
<text x="1475" y="784" font-size="9.2" fill="#000" stroke="#000" stroke-width="0.25">7 May 08:00</text>
<rect x="1540" y="772" width="1" height="3" fill="#000"/>
<text x="1539" y="784" font-size="9.2" fill="#000" stroke="#000" stroke-width="0.25">8 May 16:00</text>
<rect x="1604" y="772" width="1" height="3" fill="#000"/>
<text x="1603" y="784" font-size="9.2" fill="#000" stroke="#000" stroke-width="0.25">11 May 20:00</text>
<rect x="1668" y="772" width="1" height="3" fill="#000"/>
<text x="1667" y="784" font-size="9.2" fill="#000" stroke="#000" stroke-width="0.25">13 May 00:00</text>
</svg>
</body></html>
